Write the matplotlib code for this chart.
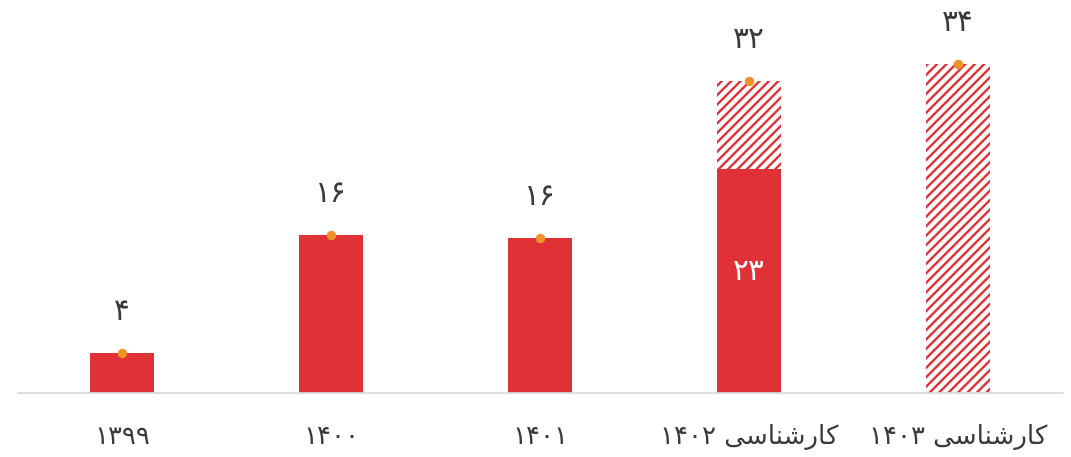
import matplotlib.pyplot as plt

plt.rcParams['font.family'] = ['DejaVu Sans']
plt.rcParams['hatch.linewidth'] = 2.0
plt.rcParams['hatch.color'] = '#E03236'


def fa(s):
    # Persian digits
    return ''.join(chr(0x06F0 + int(c)) if c.isdigit() else c for c in s)


# "کارشناسی" shaped with presentation forms, in visual (left-to-right) order
KARSHENASI = '\uFBFD\uFEB3\uFE8E\uFEE8\uFEB7\uFEAD\uFE8E\uFB90'

categories = ['1399', '1400', '1401', 'karshenasi 1402', 'karshenasi 1403']
tick_labels = [fa('1399'), fa('1400'), fa('1401'),
               fa('1402') + ' ' + KARSHENASI, fa('1403') + ' ' + KARSHENASI]
actual = [4.1, 16.2, 15.9, 23.0, 0]
total = [4.1, 16.2, 15.9, 32.0, 33.7]
total_labels = [4, 16, 16, 32, 34]
inner_labels = [None, None, None, 23, None]

red = '#E03236'
orange = '#F0922B'

fig = plt.figure(figsize=(1071 / 85, 457 / 85), dpi=85)
ax = fig.add_axes([17.5 / 1071, 64 / 457, 1045 / 1071, 390 / 457])

x = list(range(len(categories)))
w = 0.31
estimate = [t - a for t, a in zip(total, actual)]
ax.bar(x, actual, width=w, color=red, linewidth=0)
ax.bar(x, estimate, width=w, bottom=actual, color='white', edgecolor=red,
       hatch='///', linewidth=0)
ax.plot(x, total, 'o', color=orange, markersize=7, zorder=5)

for xi, t, lab in zip(x, total, total_labels):
    ax.text(xi, t + 4.3, fa(str(lab)), ha='center', va='center',
            fontsize=25, color='#3a3a3a')
for xi, a, lab in zip(x, actual, inner_labels):
    if lab is not None:
        ax.text(xi, a / 2 + 1.0, fa(str(lab)), ha='center', va='center',
                fontsize=25, color='white')

ax.set_xlim(-0.5, 4.5)
ax.set_ylim(0, 40)
ax.set_xticks(x)
ax.set_xticklabels(tick_labels, fontsize=22, color='#3a3a3a')
ax.tick_params(axis='x', length=0, pad=26)
ax.set_yticks([])
for s in ['top', 'left', 'right']:
    ax.spines[s].set_visible(False)
ax.spines['bottom'].set_color('#d9d9d9')
ax.spines['bottom'].set_linewidth(1.5)

fig.savefig('out.png', dpi=85)
